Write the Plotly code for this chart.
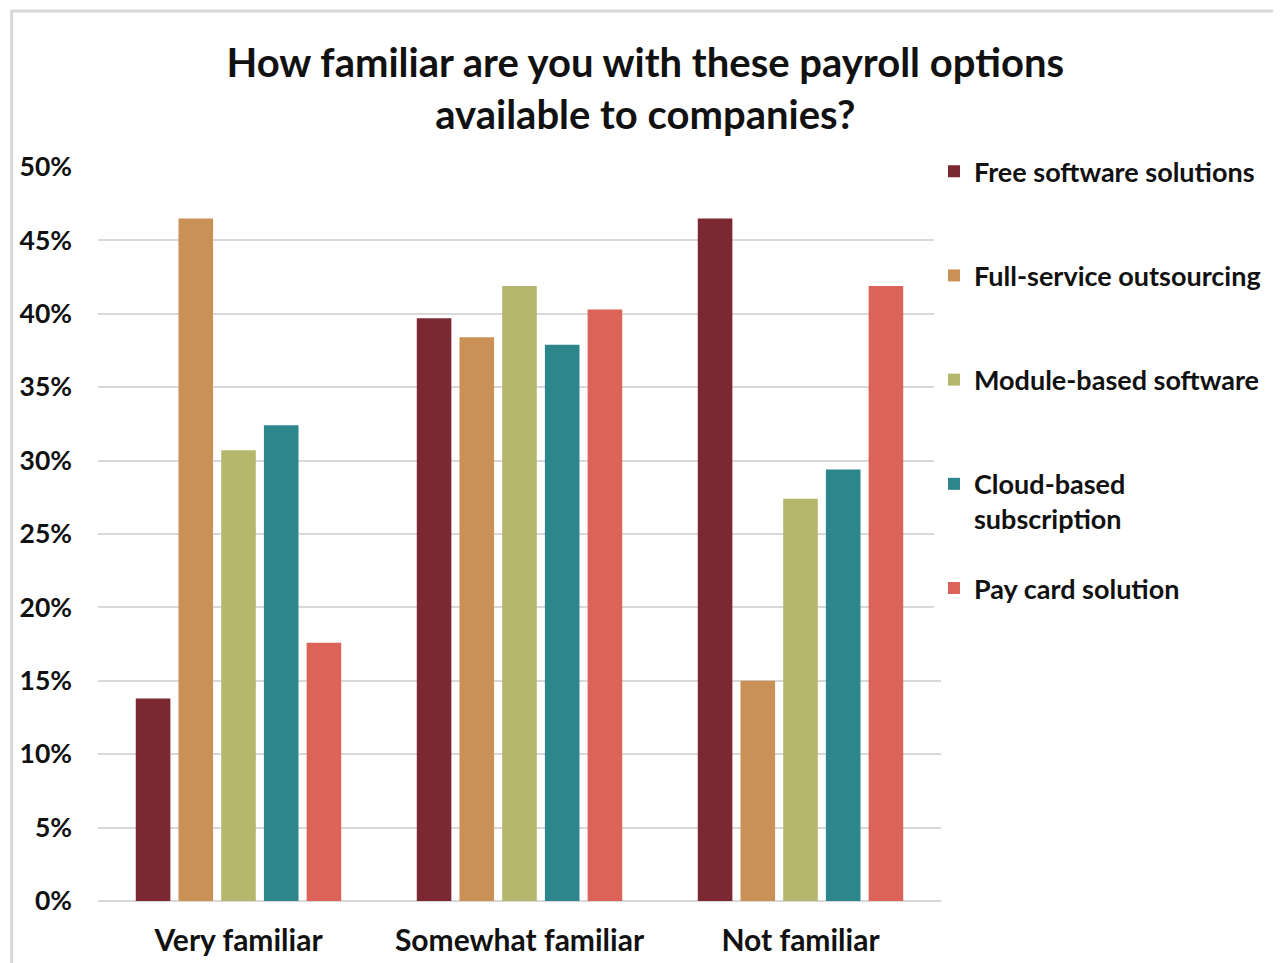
import plotly.graph_objects as go

categorias = ["Very familiar", "Somewhat familiar", "Not familiar"]

free_software = [0.138, 0.397, 0.465]
full_service = [0.465, 0.384, 0.150]
module_based = [0.307, 0.419, 0.274]
cloud_based = [0.324, 0.379, 0.294]
pay_card = [0.176, 0.403, 0.419]

series = [
    ("Free software solutions<br>&nbsp;", free_software, "#7B2832"),
    ("Full-service outsourcing<br>&nbsp;", full_service, "#C99155"),
    ("Module-based software<br>&nbsp;", module_based, "#B5B86C"),
    ("Cloud-based<br>subscription", cloud_based, "#2D868C"),
    ("Pay card solution<br>&nbsp;", pay_card, "#DC6358"),
]

fonte = "Lato, Open Sans, sans-serif"

fig = go.Figure()
for i, (nome, valores, cor) in enumerate(series):
    fig.add_trace(go.Bar(
        x=categorias, y=valores, name=nome,
        marker=dict(color=cor, line=dict(width=0)),
        legendgroup=str(i),
    ))

fig.update_layout(
    width=1281, height=963,
    paper_bgcolor="white", plot_bgcolor="white",
    margin=dict(l=88, r=348, t=159, b=70),
    barmode="group", bargap=0.24, bargroupgap=0.19,
    title=dict(
        text="How familiar are you with these payroll options<br>available to companies?",
        x=0.4975, xanchor="center", y=0.928, yanchor="top",
        font=dict(family=fonte, size=40, color="#111111", weight="bold"),
    ),
    font=dict(family=fonte, size=24, color="#111111", weight="bold"),
    legend=dict(
        x=0.9917, xanchor="left", y=1.027, yanchor="top",
        font=dict(family=fonte, size=27, color="#111111", weight="bold"),
        tracegroupgap=31, itemwidth=30, valign="top",
        maxheight=800,
    ),
    showlegend=True,
)

fig.update_yaxes(
    range=[0, 0.5], dtick=0.05, tickformat=".0%",
    showgrid=True, gridcolor="#D9D9D9", gridwidth=2,
    zeroline=True, zerolinecolor="#D9D9D9", zerolinewidth=2,
    ticks="", ticklabelstandoff=25,
    tickfont=dict(family=fonte, size=26.5, color="#111111", weight="bold"),
)
fig.update_xaxes(
    showline=False, ticks="", ticklabelstandoff=19,
    tickfont=dict(family=fonte, size=30, color="#111111", weight="bold"),
)

# borda cinza em volta do gráfico
fig.add_shape(
    type="rect", xref="paper", yref="paper",
    x0=-0.1024, x1=1.5, y0=-0.2, y1=1.2125,
    line=dict(color="#D9D9D9", width=3), fillcolor="rgba(0,0,0,0)",
    layer="below",
)

fig.write_html("out.html")
